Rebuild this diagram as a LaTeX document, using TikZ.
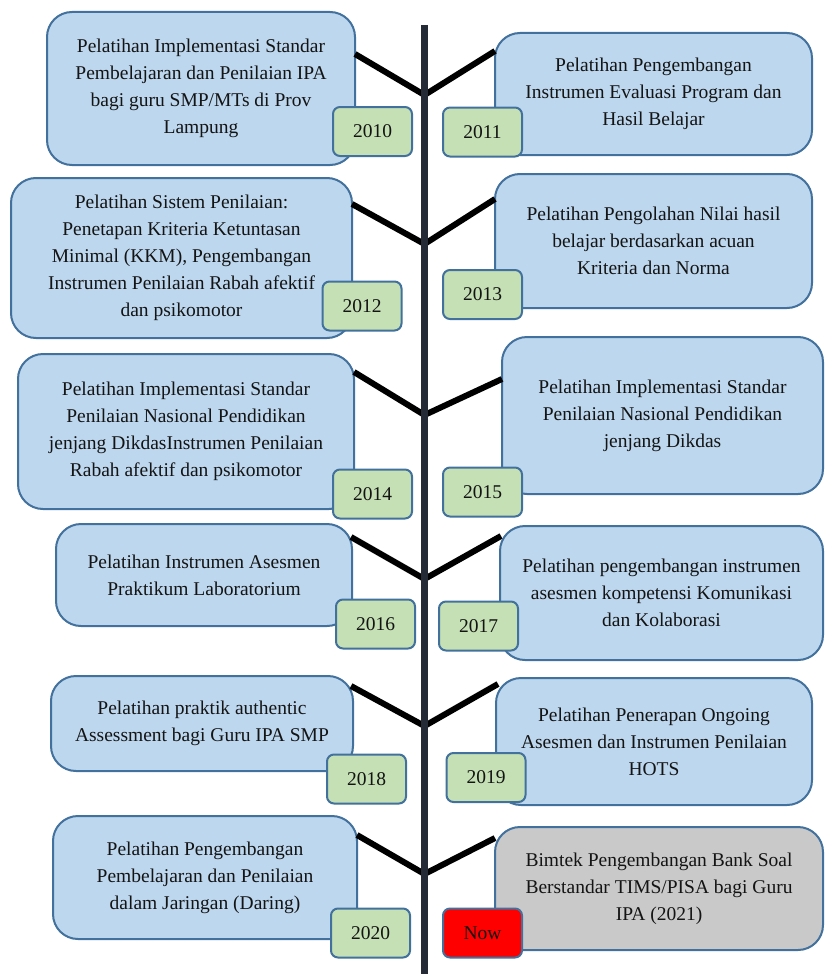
\documentclass[tikz,border=0pt]{standalone}
\usepackage{fontspec}
\setmainfont{Liberation Serif}
\usetikzlibrary{calc}
\definecolor{boxblue}{HTML}{BDD7EE}
\definecolor{edgeblue}{HTML}{41719C}
\definecolor{yeargreen}{HTML}{C5E0B4}
\definecolor{nowgray}{HTML}{C9C9C9}
\definecolor{nowred}{HTML}{FF0000}
\definecolor{spinecol}{HTML}{252B36}
\begin{document}
\begin{tikzpicture}[x=1pt,y=-1pt,
  txt/.style={font=\fontsize{19.5}{27}\selectfont, align=center, inner sep=0pt, text=black!92},
  bigbox/.style={txt, draw=edgeblue, line width=2pt, fill=boxblue, rounded corners=25pt},
  graybox/.style={bigbox, fill=nowgray},
  yearbox/.style={txt, draw=edgeblue, line width=2pt, fill=yeargreen, rounded corners=7pt, minimum width=79pt, minimum height=49pt},
  nowbox/.style={yearbox, fill=nowred},
  conn/.style={line width=6pt, black},
  spine/.style={line width=7.5pt, spinecol}]
\path[use as bounding box, fill=white] (0,0) rectangle (825,974);

% spine coordinates and vertices
\coordinate (top) at (424.5,25);
\coordinate (bot) at (424.5,974);
\coordinate (v1) at (424.5,95);
\coordinate (v2) at (424.5,244);
\coordinate (v3) at (424.5,415);
\coordinate (v4) at (424.5,579);
\coordinate (v5) at (424.5,726);
\coordinate (v6) at (424.5,874);

% main boxes
\node[bigbox, minimum width=308pt, minimum height=153pt] (b2010) at (201,88.5)
  {Pelatihan Implementasi Standar\\Pembelajaran dan Penilaian IPA\\bagi guru SMP/MTs di Prov\\Lampung};
\node[bigbox, minimum width=317pt, minimum height=122pt] (b2011) at (653.5,94)
  {Pelatihan Pengembangan\\Instrumen Evaluasi Program dan\\Hasil Belajar};
\node[bigbox, minimum width=341pt, minimum height=160pt] (b2012) at (181.5,258)
  {Pelatihan Sistem Penilaian:\\Penetapan Kriteria Ketuntasan\\Minimal (KKM), Pengembangan\\Instrumen Penilaian Rabah afektif\\dan psikomotor};
\node[bigbox, minimum width=317pt, minimum height=134pt] (b2013) at (653.5,241)
  {Pelatihan Pengolahan Nilai hasil\\belajar berdasarkan acuan\\Kriteria dan Norma};
\node[bigbox, minimum width=336pt, minimum height=155pt] (b2014) at (186,431.5)
  {Pelatihan Implementasi Standar\\Penilaian Nasional Pendidikan\\jenjang DikdasInstrumen Penilaian\\Rabah afektif dan psikomotor};
\node[bigbox, minimum width=321pt, minimum height=157pt] (b2015) at (662.5,415.5)
  {Pelatihan Implementasi Standar\\Penilaian Nasional Pendidikan\\jenjang Dikdas};
\node[bigbox, minimum width=296pt, minimum height=102pt] (b2016) at (204,575)
  {Pelatihan Instrumen Asesmen\\Praktikum Laboratorium};
\node[bigbox, minimum width=323pt, minimum height=134pt] (b2017) at (661.5,593)
  {Pelatihan pengembangan instrumen\\asesmen kompetensi Komunikasi\\dan Kolaborasi};
\node[bigbox, minimum width=302pt, minimum height=95pt] (b2018) at (202,723.5)
  {Pelatihan praktik authentic\\Assessment bagi Guru IPA SMP};
\node[bigbox, minimum width=316pt, minimum height=127pt] (b2019) at (654,741.5)
  {Pelatihan Penerapan Ongoing\\Asesmen dan Instrumen Penilaian\\HOTS};
\node[bigbox, minimum width=304pt, minimum height=123pt] (b2020) at (205,877.5)
  {Pelatihan Pengembangan\\Pembelajaran dan Penilaian\\dalam Jaringan (Daring)};
\node[graybox, minimum width=328pt, minimum height=123pt] (bnow) at (659,888.5)
  {Bimtek Pengembangan Bank Soal\\Berstandar TIMS/PISA bagi Guru\\IPA (2021)};

% connectors
\draw[conn] ($(b2010.north east)+(-1,43)$) -- (v1);
\draw[conn] (v1) -- ($(b2011.north west)+(1,19)$);
\draw[conn] ($(b2012.north east)+(-1,27)$) -- (v2);
\draw[conn] (v2) -- ($(b2013.north west)+(1,26)$);
\draw[conn] ($(b2014.north east)+(-1,19)$) -- (v3);
\draw[conn] (v3) -- ($(b2015.north west)+(1,43)$);
\draw[conn] ($(b2016.north east)+(-2,14)$) -- (v4);
\draw[conn] (v4) -- ($(b2017.north west)+(2,11)$);
\draw[conn] ($(b2018.north east)+(-3,11)$) -- (v5);
\draw[conn] (v5) -- ($(b2019.north west)+(3,7)$);
\draw[conn] ($(b2020.north east)+(-1,20)$) -- (v6);
\draw[conn] (v6) -- ($(bnow.north west)+(1,12)$);

% spine
\draw[spine] (top) -- (bot);

% year labels
\node[yearbox] (y2010) at (372.5,131.5) {2010};
\node[yearbox] (y2011) at (482.5,132) {2011};
\node[yearbox] (y2012) at (362,306) {2012};
\node[yearbox] (y2013) at (482.5,294.5) {2013};
\node[yearbox] (y2014) at (372.5,494) {2014};
\node[yearbox] (y2015) at (482.5,492) {2015};
\node[yearbox] (y2016) at (375.5,624) {2016};
\node[yearbox] (y2017) at (478.5,626) {2017};
\node[yearbox] (y2018) at (366.5,779) {2018};
\node[yearbox] (y2019) at (486,777.5) {2019};
\node[yearbox] (y2020) at (370.5,933) {2020};
\node[nowbox] (ynow) at (482.5,933) {Now};
\end{tikzpicture}
\end{document}
